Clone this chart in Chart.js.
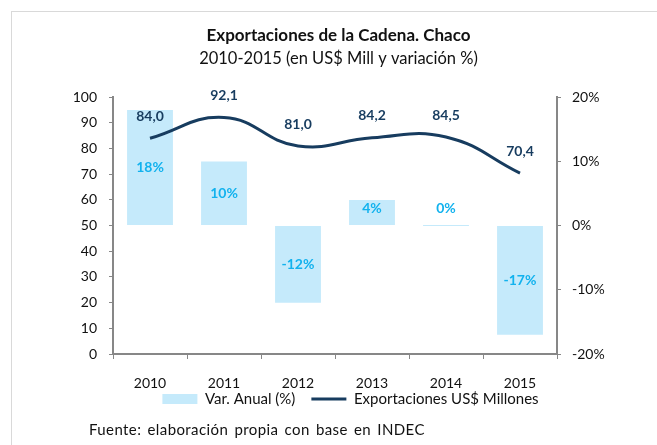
<!DOCTYPE html>
<html>
<head>
<meta charset="utf-8">
<script src="https://cdn.jsdelivr.net/npm/chart.js@4/dist/chart.umd.min.js"></script>
<style>
    html, body { margin: 0; padding: 0; background: #fff; }
    body { width: 657px; height: 445px; position: relative; overflow: hidden; font-family: Lato, "Noto Sans", sans-serif; }
    #frame { position: absolute; left: 11px; top: 11px; width: 700px; height: 500px; border-left: 1px solid #d9d9d9; border-top: 1px solid #d9d9d9; }
    #chart-box { position: absolute; left: 0; top: 0; width: 657px; height: 432px; }
    #fuente { position: absolute; left: 89px; top: 420px; font-size: 15px; color: #111; letter-spacing: 0.4px; word-spacing: 2px; }
</style>
</head>
<body>
<div id="frame"></div>
<div id="chart-box"><canvas id="export-chart"></canvas></div>
<div id="fuente">Fuente: elaboración propia con base en INDEC</div>
<script>
const years = ['2010', '2011', '2012', '2013', '2014', '2015'];
const exportaciones = [84.0, 92.1, 81.0, 84.2, 84.5, 70.4];
const variacion = [18, 10, -12, 4, 0, -17];
const leftTicks = [0, 100, 10];
const rightTicks = [-20, 20, 10];

const navy = '#173C5F';
const lightBlue = '#C5EAFB';
const cyan = '#12B2EE';
const axisGray = '#878787';

const valueLabels = {
    id: 'valueLabels',
    afterLayout(chart) {
        // legend sits right of centre and tucked under the year labels
        chart.legend.left += 12;
        chart.legend.right += 12;
        chart.legend.top -= 15.5;
        chart.legend.bottom -= 15.5;
    },
    afterDatasetsDraw(chart) {
        const ctx = chart.ctx;
        ctx.save();
        ctx.textAlign = 'center';
        ctx.textBaseline = 'middle';
        ctx.font = 'bold 14px Lato, "Noto Sans", sans-serif';

        const barMeta = chart.getDatasetMeta(0);
        ctx.fillStyle = cyan;
        barMeta.data.forEach(function (bar, i) {
            const v = variacion[i];
            const center = (bar.y + bar.base) / 2;
            const y = v >= 0 ? Math.min(center, bar.base - 17) : center;
            ctx.fillText(v + '%', bar.x, y);
        });

        const lineMeta = chart.getDatasetMeta(1);
        ctx.fillStyle = navy;
        lineMeta.data.forEach(function (pt, i) {
            ctx.fillText(exportaciones[i].toFixed(1).replace('.', ','), pt.x, pt.y - 22);
        });
        ctx.restore();
    }
};

const ctx = document.getElementById('export-chart').getContext('2d');
const chart = new Chart(ctx, {
    type: 'bar',
    data: {
        labels: years,
        datasets: [{
            type: 'bar',
            label: 'Var. Anual (%)',
            data: variacion,
            yAxisID: 'y1',
            backgroundColor: lightBlue,
            borderWidth: 0,
            categoryPercentage: 1,
            barPercentage: 0.62,
            minBarLength: 1,
            pointStyle: 'rect',
            order: 1
        }, {
            type: 'line',
            label: 'Exportaciones US$ Millones',
            data: exportaciones,
            yAxisID: 'y',
            borderColor: navy,
            backgroundColor: navy,
            borderWidth: 3,
            pointRadius: 0,
            tension: 0.45,
            pointStyle: 'line',
            order: 0
        }]
    },
    options: {
        responsive: true,
        maintainAspectRatio: false,
        animation: false,
        layout: { padding: { left: 20, right: 0, top: 0, bottom: 0 } },
        plugins: {
            title: {
                display: true,
                text: 'Exportaciones de la Cadena. Chaco',
                color: '#111',
                font: { family: 'Lato', size: 17, weight: 'bold' },
                padding: { top: 25, bottom: 2 }
            },
            subtitle: {
                display: true,
                text: '2010-2015 (en US$ Mill y variación %)',
                color: '#111',
                font: { family: 'Lato', size: 16.5 },
                padding: { top: 1, bottom: 29 }
            },
            legend: {
                position: 'bottom',
                labels: {
                    usePointStyle: true,
                    pointStyleWidth: 35,
                    boxWidth: 35,
                    boxHeight: 10,
                    padding: 16,
                    color: '#111',
                    font: { family: 'Lato', size: 15 },
                    sort: (a, b) => a.datasetIndex - b.datasetIndex
                }
            },
            tooltip: { enabled: false }
        },
        scales: {
            x: {
                grid: { drawOnChartArea: false, color: axisGray, tickLength: 5, offset: true },
                border: { color: axisGray, width: 2 },
                ticks: { color: '#111', padding: 16, font: { family: 'Lato', size: 14 } },
                afterFit: function (scale) { scale.height = 37; }
            },
            y: {
                position: 'left',
                min: leftTicks[0],
                max: leftTicks[1],
                grid: { drawOnChartArea: false, color: axisGray, tickLength: 4 },
                border: { color: axisGray, width: 2 },
                ticks: { stepSize: leftTicks[2], color: '#111', padding: 12, font: { family: 'Lato', size: 14 } },
                afterFit: function (scale) { scale.width = 93; }
            },
            y1: {
                position: 'right',
                min: rightTicks[0],
                max: rightTicks[1],
                grid: { drawOnChartArea: false, color: axisGray, tickLength: 4 },
                border: { color: axisGray, width: 2 },
                ticks: {
                    stepSize: rightTicks[2],
                    color: '#111',
                    padding: 11,
                    font: { family: 'Lato', size: 14 },
                    callback: function (v) { return v + '%'; }
                },
                afterFit: function (scale) { scale.width = 100; }
            }
        }
    },
    plugins: [valueLabels]
});
</script>
</body>
</html>
